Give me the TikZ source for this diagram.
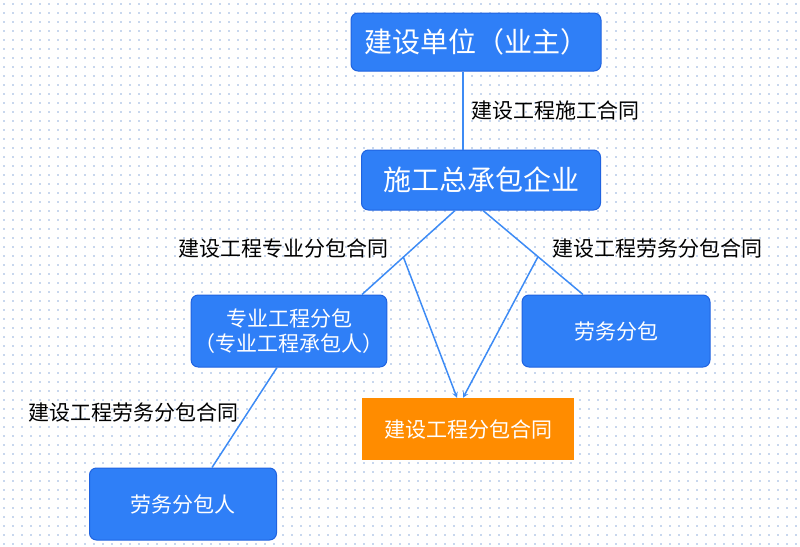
\documentclass[tikz,border=0pt]{standalone}
\usepackage{fontspec}
\setmainfont{Noto Sans CJK SC}
\usetikzlibrary{calc}
\definecolor{boxblue}{HTML}{2F7FF7}
\definecolor{edgeblue}{HTML}{1F63E0}
\definecolor{lineblue}{HTML}{3D8BF5}
\definecolor{dotblue}{HTML}{8FAEDD}
\definecolor{orangebox}{HTML}{FF8C00}
\tikzset{
  party/.style={draw=edgeblue, fill=boxblue, rounded corners=7pt, line width=1pt,
    text=white, align=center, font=\fontsize{21}{25}\selectfont},
  contract/.style={fill=orangebox, text=white, font=\fontsize{21}{25}\selectfont},
  lbl/.style={text=black, font=\fontsize{21}{25}\selectfont},
  link/.style={lineblue, line width=1.5pt},
}
\begin{document}
\begin{tikzpicture}[x=1pt, y=-1pt]
    \useasboundingbox (0, 0) rectangle (800, 546);
    % dotted background
    \foreach \i in {4, 13, ..., 796} {
      \foreach \j in {4, 13, ..., 544} {
        \fill[dotblue] (\i, \j) circle (0.8);
      }
    }
    % parties
    \node[party, minimum width=250, minimum height=58, font=\fontsize{28}{30}\selectfont]
      (owner) at (476, 42){建设单位（业主）};
    \node[party, minimum width=239, minimum height=60, font=\fontsize{28}{30}\selectfont]
      (general) at (481, 180){施工总承包企业};
    \node[party, minimum width=192, minimum height=72]
      (special) at (289, 331){专业工程分包\\（专业工程承包人）};
    \node[party, minimum width=188, minimum height=72]
      (labour) at (616, 331){劳务分包};
    \node[party, minimum width=187, minimum height=72]
      (labourer) at (183, 504){劳务分包人};
    \node[contract, minimum width=212, minimum height=62]
      (subcontract) at (468, 429){建设工程分包合同};

    % contracts between parties
    \coordinate (mx) at (463, 0);
    \draw[link] (owner.south -| mx) -- (general.north -| mx);
    \node[lbl](maincontract) at (555, 111){建设工程施工合同};
    \draw[link] ([xshift=-26]general.south) coordinate (gl) -- ([xshift=73]special.north) coordinate (sr);
    \draw[link] ([xshift=2]general.south) coordinate (gr) -- ([xshift=-33]labour.north) coordinate (lr);
    \node[lbl](speccontract) at (283, 248){建设工程专业分包合同};
    \node[lbl](labcontract) at (657, 248){建设工程劳务分包合同};
    \draw[link] ([xshift=-12]special.south) -- ([xshift=29]labourer.north);
    \node[lbl](labcontract2) at (133, 412){建设工程劳务分包合同};

    % both are subcontracts
    \coordinate (a) at ($(gl)!0.555!(sr)$);
    \coordinate (b) at ($(gr)!0.55!(lr)$);
    \draw[link, ->, >=stealth] (a) -- ([xshift=-11]subcontract.north);
    \draw[link, ->, >=stealth] (b) -- ([xshift=-5]subcontract.north);
\end{tikzpicture}
\end{document}
